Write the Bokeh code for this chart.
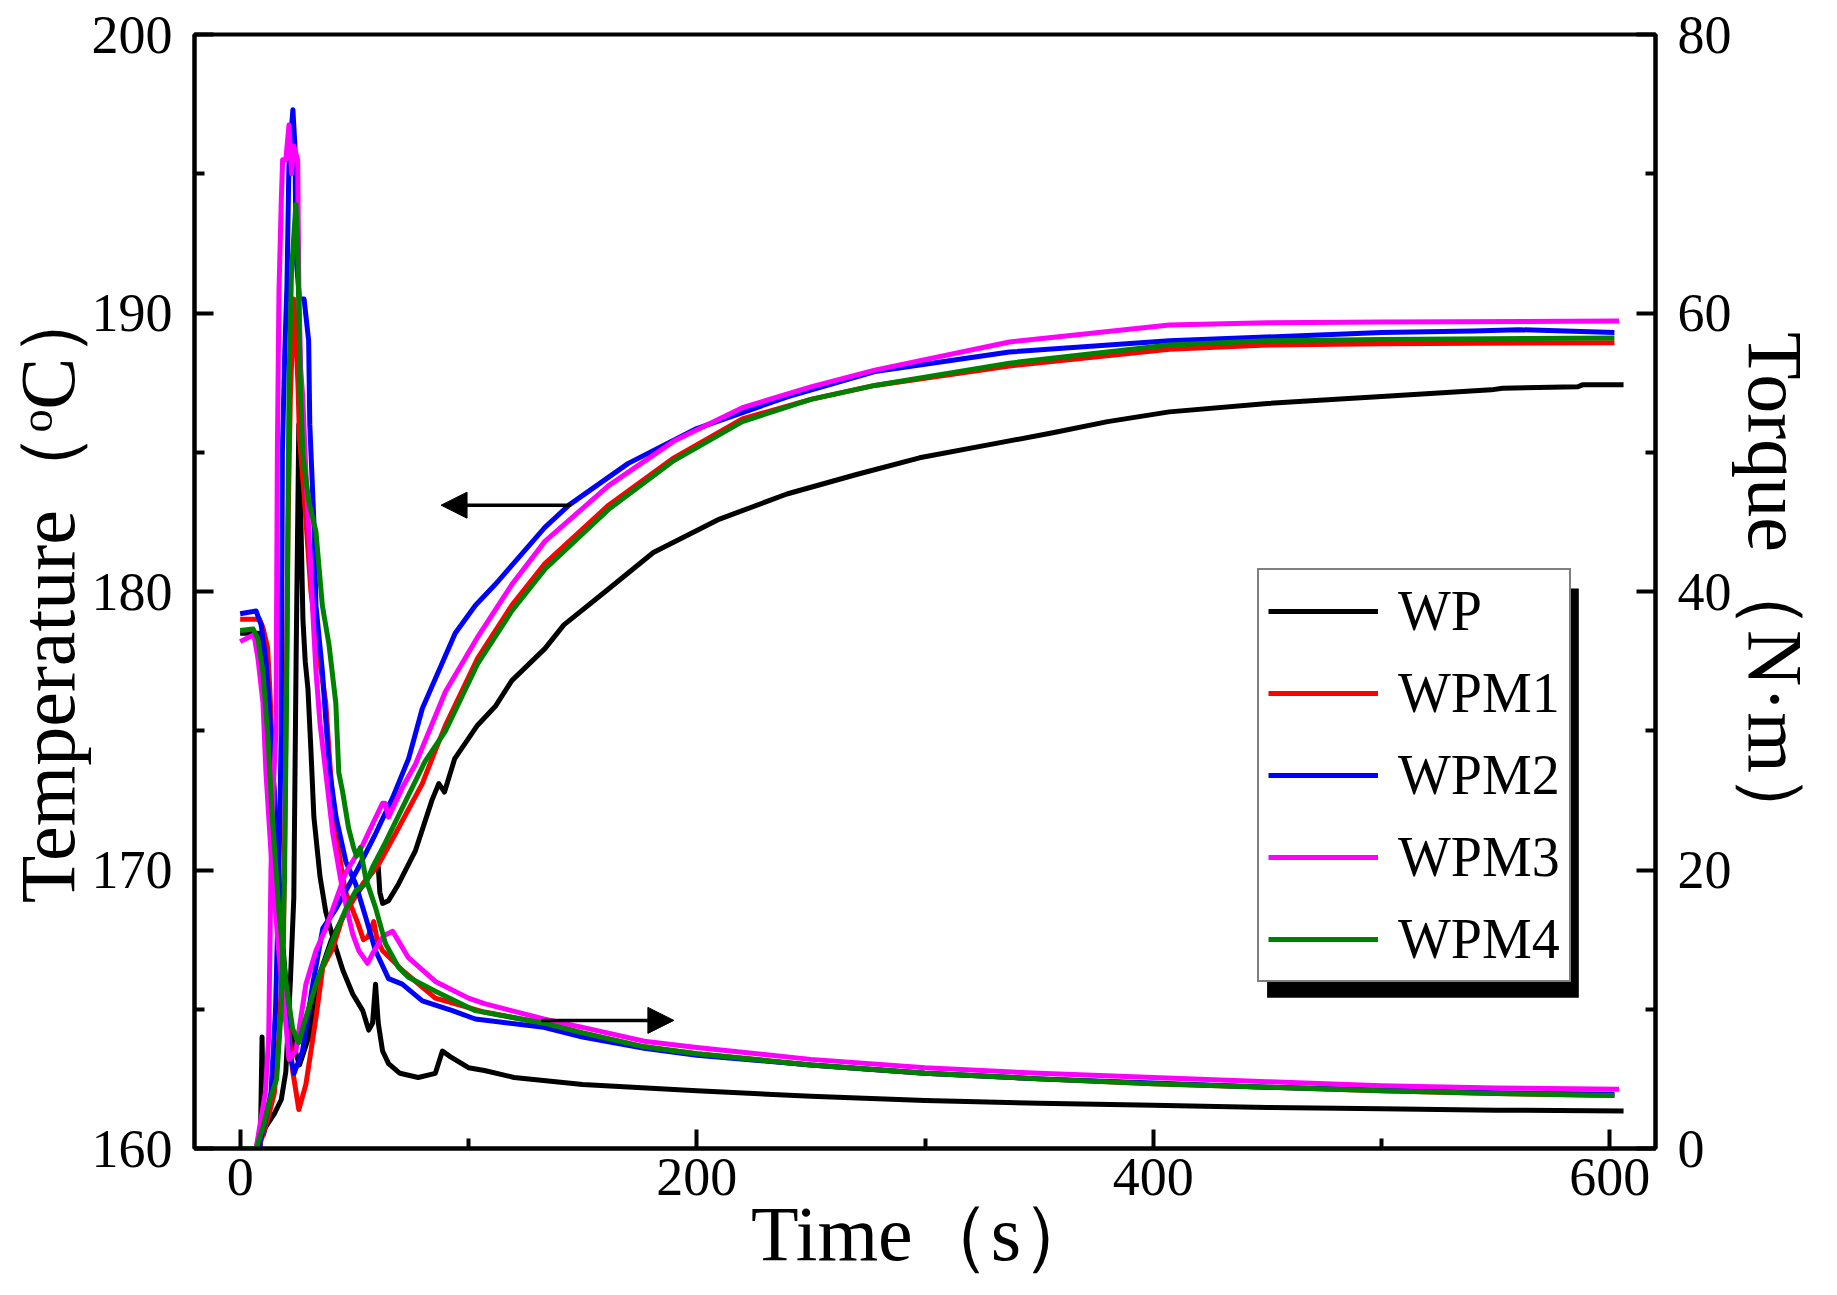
from bokeh.plotting import figure
from bokeh.models import (Range1d, LinearAxis, FixedTicker, Legend, LegendItem,
                          Arrow, NormalHead, BoxAnnotation)
from bokeh.embed import file_html
from bokeh.resources import INLINE

# ---------------- data ----------------
series_names = ["WP", "WPM1", "WPM2", "WPM3", "WPM4"]
series_colors = ["#000000", "#FF0000", "#0000FF", "#FF00FF", "#008000"]

x_title = "Time（s）"
temp_title = "Temperature（ᵒC）"
torque_title = "Torque（N·m）"

x_ticks = [0, 200, 400, 600]
x_minor = [100, 300, 500]
temp_ticks = [160, 170, 180, 190, 200]
temp_minor = [165, 175, 185, 195]
torque_ticks = [0, 20, 40, 60, 80]
torque_minor = [10, 30, 50, 70]

wp_temp_t = [0, 8, 10, 12, 14.5, 17, 20, 23, 26, 30, 35, 40, 45, 50, 55, 59.5, 60.5, 61.2, 62.4, 65,
             69.4, 76.8, 84, 87, 89.5, 94, 104, 112, 119, 133.5, 141.8, 160, 181, 210, 239.5, 270,
             297.6, 330, 356, 380, 407, 450, 500, 548, 553, 586, 588, 606]
wp_temp = [178.5, 178.5, 177.5, 175.5, 173, 169, 166, 163.8, 163.0, 164.0, 166.3, 167.5, 168.3, 169.0,
           169.6, 170.1, 170.1, 169.2, 168.8, 168.9, 169.5, 170.7, 172.5, 173.1, 172.8, 174.0, 175.2,
           175.9, 176.8, 177.95, 178.8, 180.0, 181.4, 182.6, 183.5, 184.2, 184.8, 185.3, 185.7, 186.1,
           186.45, 186.75, 187.0, 187.24, 187.3, 187.35, 187.42, 187.42]
wp_torque_t = [0, 8.8, 9.6, 10.2, 11, 15, 18, 20, 22, 23.5, 24.5, 25.7, 26.5, 27.5, 28.5, 29.7, 31,
               32.3, 35, 37.5, 41.9, 45, 49.3, 53.7, 56.3, 58, 59.3, 60.5, 62.4, 65, 70, 78, 85.5,
               88.6, 92, 100, 107, 120, 150, 200, 250, 300, 350, 400, 450, 500, 550, 606]
wp_torque = [0, 0, 8, 1, 1.5, 2.5, 3.5, 5.5, 12, 18, 35, 52, 46, 38, 35, 33, 28.6, 23.8, 19.5, 17,
             14.4, 12.8, 11.1, 9.9, 8.5, 9, 11.8, 9, 7, 6.1, 5.4, 5.1, 5.4, 7.0, 6.6, 5.8, 5.6, 5.1,
             4.6, 4.15, 3.75, 3.45, 3.25, 3.1, 2.95, 2.85, 2.75, 2.7]

wpm1_temp_t = [0, 8.5, 10, 12, 13, 14.5, 17, 19, 21, 23, 25.7, 28.8, 33.2, 36.2, 40.6, 44.9, 53.7,
               60.6, 68, 79.8, 85.5, 90, 104, 119, 133.5, 161.4, 190, 220, 250, 278, 337, 407, 450,
               500, 602]
wpm1_temp = [179.0, 179.0, 178.7, 178.0, 176.5, 173.5, 169, 166.5, 164.5, 162.8, 161.4, 162.3, 164.7,
             166.5, 167.2, 168.3, 169.5, 170.2, 171.3, 173.1, 174.3, 175.2, 177.6, 179.5, 181.0,
             183.1, 184.8, 186.2, 186.9, 187.4, 188.1, 188.7, 188.85, 188.9, 188.93]
wpm1_torque_t = [0, 8, 10, 12.7, 15, 17, 19, 20, 21, 22, 23.5, 24.5, 25.3, 26, 28, 31, 34, 37.5, 40,
                 43, 46, 51.5, 54, 56, 58.5, 60, 62.4, 68, 71, 85.5, 107, 133, 150, 177, 200, 250,
                 300, 350, 400, 450, 500, 550, 602]
wpm1_torque = [0, 0, 1, 2.5, 4, 8, 15, 30, 45, 54, 61, 58, 55, 51, 47, 40, 36, 32, 26, 21.5, 18.5,
               16.2, 15, 15.2, 16.3, 15, 14.2, 13.3, 12.8, 10.8, 9.8, 9.0, 8.3, 7.3, 6.8, 6.0, 5.4,
               5.0, 4.65, 4.4, 4.15, 3.95, 3.8]

wpm2_temp_t = [0, 7, 9.2, 11.3, 12.7, 14.4, 16.5, 18.6, 21.4, 23.6, 27.3, 31.8, 36.2, 41.9, 46.3,
               51.9, 59.3, 66.8, 73.8, 79.8, 94.2, 103, 111.7, 133.5, 144, 170, 200, 240, 278, 337,
               407, 470, 500, 540, 560, 602]
wpm2_temp = [179.2, 179.3, 178.8, 177.5, 176, 173.5, 170.7, 167.1, 163.5, 162.7, 163.5, 165.9, 167.9,
             168.6, 169.25, 170.1, 171.3, 172.6, 174.0, 175.8, 178.5, 179.5, 180.25, 182.3, 183.1,
             184.6, 185.85, 187.0, 187.9, 188.6, 189.0, 189.2, 189.3, 189.35, 189.4, 189.3]
wpm2_torque_t = [0, 8, 11, 13.5, 15.5, 17, 18, 18.5, 19.5, 20.5, 21.4, 23.1, 24, 24.5, 26, 28, 30,
                 30.5, 32.3, 33.2, 36, 38.9, 42, 46.3, 50.6, 55, 59.3, 65, 71, 79.8, 93, 103, 133,
                 150, 177, 200, 250, 300, 350, 400, 450, 500, 550, 602]
wpm2_torque = [0, 0, 2, 4, 10, 20, 30, 50, 57, 62, 71, 74.6, 72, 64, 61, 61, 58, 52, 45, 39, 34.3,
               27.5, 23.8, 20.6, 19, 16.6, 14.2, 12.2, 11.8, 10.6, 9.9, 9.3, 8.7, 8.0, 7.2, 6.7, 6.0,
               5.4, 5.0, 4.7, 4.4, 4.2, 4.0, 3.9]

wpm3_temp_t = [0, 6, 7.8, 10, 11.3, 14, 17, 20, 21.4, 24.4, 28.8, 33.2, 37.5, 41.9, 46.2, 53.7, 58,
               62.4, 63.5, 65, 71, 76.8, 89.9, 104.3, 119, 133.5, 161.4, 190, 220, 250, 278, 337,
               407, 450, 500, 604]
wpm3_temp = [178.2, 178.45, 177.6, 176, 173.5, 170, 167, 164.5, 163.2, 163.5, 165.9, 167.1, 167.9,
             168.9, 169.9, 170.9, 171.65, 172.4, 172.4, 171.9, 172.95, 173.8, 176.4, 178.4, 180.25,
             181.8, 183.8, 185.4, 186.6, 187.35, 187.95, 188.96, 189.57, 189.65, 189.68, 189.71]
wpm3_torque_t = [0, 7, 9, 11, 12.5, 13.5, 14.5, 15.7, 16.3, 17, 18, 18.6, 20, 21.4, 22.5, 23.5, 25.2,
                 25.7, 26.5, 27.4, 28.8, 31.8, 33.2, 35, 37.5, 40.6, 44.9, 49.3, 52, 55.8, 58, 60.6,
                 63, 66.8, 69, 73.7, 85.5, 100, 107, 133, 150, 177, 200, 250, 300, 350, 400, 450,
                 500, 550, 604]
wpm3_torque = [0, 0, 2, 4, 8, 20, 26, 30, 50, 61.5, 68, 71, 71, 73.5, 70, 72, 71, 62, 56, 54, 48.6,
               38.6, 34.3, 30.5, 27, 22.6, 18.5, 15.4, 14.2, 13.3, 14.0, 14.7, 15.3, 15.6, 15.0,
               13.7, 12.0, 10.8, 10.4, 9.3, 8.7, 7.7, 7.25, 6.4, 5.8, 5.4, 5.1, 4.8, 4.5, 4.35, 4.25]

wpm4_temp_t = [0, 5.7, 7.8, 10, 12.2, 14, 17, 20, 23, 25.7, 28, 33.2, 40.6, 46.3, 50.6, 55, 58, 63.7,
               73.8, 81, 90, 104, 119, 133.5, 161.4, 190, 220, 250, 278, 337, 407, 450, 500, 602]
wpm4_temp = [178.6, 178.65, 178.3, 177.1, 174.7, 172, 168.5, 166, 164.3, 163.8, 164.5, 165.9, 167.5,
             168.6, 169.25, 169.5, 170.1, 171.0, 172.7, 173.9, 175.0, 177.4, 179.3, 180.8, 182.95,
             184.7, 186.1, 186.9, 187.4, 188.2, 188.85, 189.0, 189.05, 189.1]
wpm4_torque_t = [0, 7, 10, 12.7, 14, 16, 18, 19.5, 20.5, 21.4, 22.5, 24.4, 25.2, 25.7, 26.5, 27.5,
                 30, 33.2, 36, 38.9, 41.9, 43.2, 44.9, 47.5, 49.7, 51, 52.6, 55, 59.3, 63.7, 69.4,
                 73.7, 85.5, 103, 133, 150, 177, 200, 250, 300, 350, 400, 450, 500, 550, 602]
wpm4_torque = [0, 0, 1.5, 3.3, 4, 5, 10, 20, 35, 55, 63, 67.8, 65, 60, 54, 49.8, 46.5, 44.3, 39,
               36.2, 32, 27, 25.6, 23, 21.6, 21, 21.6, 19.4, 17.3, 14.7, 13, 12.3, 11.3, 9.9, 9.0,
               8.3, 7.3, 6.8, 6.0, 5.4, 5.0, 4.65, 4.4, 4.15, 3.95, 3.8]

temp_t = [wp_temp_t, wpm1_temp_t, wpm2_temp_t, wpm3_temp_t, wpm4_temp_t]
temp_v = [wp_temp, wpm1_temp, wpm2_temp, wpm3_temp, wpm4_temp]
torque_t = [wp_torque_t, wpm1_torque_t, wpm2_torque_t, wpm3_torque_t, wpm4_torque_t]
torque_v = [wp_torque, wpm1_torque, wpm2_torque, wpm3_torque, wpm4_torque]

# ---------------- figure ----------------
FONT = "Liberation Serif"
W, H = 1821, 1279
BL, BR, BT, BB = 191, 163, 34, 129
X0, X1, Y0, Y1 = -20, 620, 160, 200
FW = W - BL - BR
FH = H - BT - BB
LW = 5

p = figure(width=W, height=H, output_backend="svg", toolbar_location=None,
           x_range=Range1d(X0, X1), y_range=Range1d(Y0, Y1),
           min_border_left=BL, min_border_right=BR, min_border_top=BT, min_border_bottom=BB,
           background_fill_color="white", border_fill_color="white")
p.extra_y_ranges = {"torque": Range1d(0, 80)}
p.xgrid.visible = False
p.ygrid.visible = False
p.outline_line_color = "black"
p.outline_line_width = 4


def style_axis(ax, fs="54px"):
    ax.axis_line_width = 4
    ax.axis_line_color = "black"
    ax.major_tick_line_width = 4
    ax.minor_tick_line_width = 4
    ax.major_tick_in = 19
    ax.major_tick_out = 0
    ax.minor_tick_in = 10
    ax.minor_tick_out = 0
    ax.major_label_text_font = FONT
    ax.major_label_text_font_size = fs
    ax.major_label_text_color = "black"
    ax.axis_label_text_font = FONT
    ax.axis_label_text_font_size = "78px"
    ax.axis_label_text_font_style = "normal"
    ax.axis_label_text_color = "black"


xa = p.xaxis[0]
xa.ticker = FixedTicker(ticks=x_ticks, minor_ticks=x_minor)
xa.axis_label = x_title
style_axis(xa)
xa.major_label_standoff = 10
xa.axis_label_standoff = -8

ya = p.yaxis[0]
ya.ticker = FixedTicker(ticks=temp_ticks, minor_ticks=temp_minor)
ya.axis_label = temp_title
style_axis(ya)
ya.major_label_standoff = 22
ya.axis_label_standoff = -2

ra = LinearAxis(y_range_name="torque", axis_label=torque_title,
                ticker=FixedTicker(ticks=torque_ticks, minor_ticks=torque_minor))
style_axis(ra)
ra.major_label_standoff = 22
ra.axis_label_standoff = -3
p.add_layout(ra, "right")

renderers = []
for name, col, tt, tv, qt, qv in zip(series_names, series_colors, temp_t, temp_v, torque_t, torque_v):
    r1 = p.line(tt, tv, line_color=col, line_width=LW, line_join="round")
    p.line(qt, qv, line_color=col, line_width=LW, line_join="round", y_range_name="torque")
    renderers.append(r1)

# arrows
p.add_layout(Arrow(end=NormalHead(size=26, fill_color="black", line_color="black"),
                   x_start=145, y_start=183.1, x_end=88, y_end=183.1,
                   line_width=3.5, line_color="black"))
p.add_layout(Arrow(end=NormalHead(size=26, fill_color="black", line_color="black"),
                   x_start=132, y_start=9.2, x_end=190, y_end=9.2, y_range_name="torque",
                   line_width=3.5, line_color="black"))


# helpers: frame px (from lower-left) -> data coordinates, for the legend shadow
def px2x(px):
    return X0 + px * (X1 - X0) / FW


def px2y(py):
    return Y0 + py * (Y1 - Y0) / FH


LEG_X, LEG_Y = 1063, 166          # legend bottom-left, frame px
LEG_W, LEG_H = 313, 410           # expected legend box size, px
SH_DX, SH_DY = 14, 15

p.add_layout(BoxAnnotation(left=px2x(LEG_X + SH_DX), right=px2x(LEG_X + SH_DX + LEG_W),
                           bottom=px2y(LEG_Y - SH_DY), top=px2y(LEG_Y - SH_DY + LEG_H),
                           fill_color="black", fill_alpha=1, line_alpha=0, level="overlay"))

legend = Legend(items=[LegendItem(label=n, renderers=[r]) for n, r in zip(series_names, renderers)],
                location=(LEG_X, LEG_Y), margin=0, padding=9, spacing=18,
                glyph_width=110, glyph_height=64, label_height=64, label_standoff=20,
                label_text_font=FONT, label_text_font_size="56px", label_text_color="black",
                border_line_color="black", border_line_width=2,
                background_fill_color="white", background_fill_alpha=1, level="overlay")
p.add_layout(legend)

open("out.html", "w").write(file_html(p, INLINE))
